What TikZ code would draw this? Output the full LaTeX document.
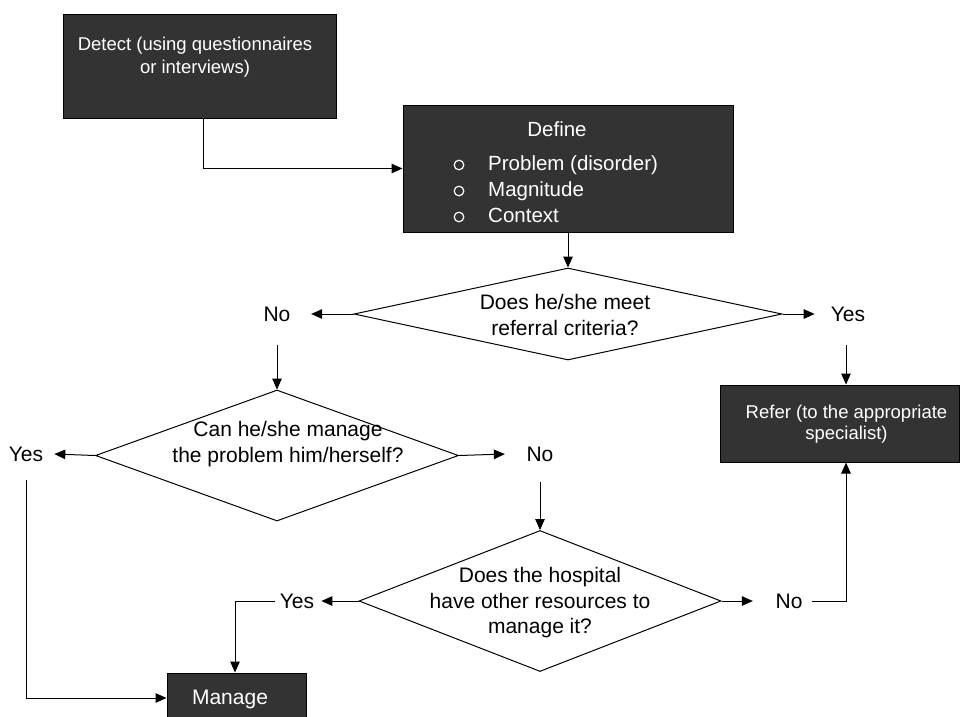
\documentclass[tikz,border=0pt]{standalone}
\usepackage{fontspec}
\setmainfont{Liberation Sans}
\usetikzlibrary{shapes.geometric,arrows.meta}
\definecolor{boxgray}{RGB}{51,51,51}
\begin{document}
\begin{tikzpicture}[x=1pt,y=-1pt,
  darkbox/.style={draw=black, fill=boxgray, line width=1pt, inner sep=0pt},
  boxtext/.style={text=white, align=center, inner sep=0pt},
  decision/.style={draw=black, shape=diamond, line width=1pt, inner sep=0pt, shape aspect=1},
  dtext/.style={align=center, inner sep=0pt, font=\fontsize{21}{25.5}\selectfont},
  lbl/.style={inner sep=0pt, font=\fontsize{21}{25}\selectfont},
  arr/.style={-{Triangle[length=11pt,width=9.5pt]}, line width=1pt},
  conn/.style={line width=1pt}
]
\useasboundingbox (0,0) rectangle (960,716);
\clip (0,0) rectangle (960,716);
\fill[white] (0,0) rectangle (960,716);

% boxes
\node[darkbox, minimum width=273, minimum height=104] (detect) at (199.5,66) {};
\node[boxtext, font=\fontsize{18.5}{23}\selectfont] (detecttxt) at (195,57)
  {Detect (using questionnaires\\or interviews)};

\node[darkbox, minimum width=330, minimum height=127] (define) at (568,168.5) {};
\node[boxtext, anchor=base, font=\fontsize{20.5}{24}\selectfont] (definetxt) at (557,136) {Define};
\foreach \yy/\t/\n in {170/Problem (disorder)/p, 196/Magnitude/m, 222/Context/c}{
  \draw[white, line width=1.2pt] (459,\yy-5) circle (4.8);
  \node[boxtext, anchor=base west, font=\fontsize{20.5}{24}\selectfont] (item\n) at (488,\yy) {\t};
}

\node[darkbox, minimum width=239, minimum height=77] (refer) at (840,423.5) {};
\node[boxtext, font=\fontsize{18.5}{21}\selectfont] (refertxt) at (846.5,424.5)
  {Refer (to the appropriate\\specialist)};

\node[darkbox, minimum width=139, minimum height=50] (manage) at (236.5,698) {};
\node[boxtext, font=\fontsize{21}{25}\selectfont] (managetxt) at (230,699) {Manage};

% decisions
\node[decision, minimum width=428, minimum height=92] (d1) at (568,314) {};
\node[dtext] (d1txt) at (565,315) {Does he/she meet\\referral criteria?};

\node[decision, minimum width=363, minimum height=131] (d2) at (277,455.5) {};
\node[dtext] (d2txt) at (288,444) {Can he/she manage\\the problem him/herself?};

\node[decision, minimum width=362, minimum height=141] (d3) at (540,601) {};
\node[dtext] (d3txt) at (540,603) {Does the hospital\\have other resources to\\manage it?};

% yes / no labels
\node[lbl] (no1) at (277,314) {No};
\node[lbl] (yes1) at (848,314) {Yes};
\node[lbl] (yes2) at (26,454) {Yes};
\node[lbl] (no2) at (540,454) {No};
\node[lbl] (yes3) at (297,601) {Yes};
\node[lbl] (no3) at (789,601) {No};

% connectors
\draw[arr] ([xshift=3.5pt]detect.south) |- (define.west);
\draw[arr] (define.south) -- (d1.north);
\draw[arr] (d1.west) -- ([xshift=20.5pt]no1.east);
\draw[arr] (d1.east) -- ([xshift=-16pt]yes1.west);
\draw[arr] ([yshift=-31pt]no1.center) -- (no1.center |- d2.north);
\draw[arr] ([xshift=-2pt,yshift=-31pt]yes1.center) -- ([xshift=-2pt]yes1.center |- refer.north);
\draw[arr] (d2.west) -- ([xshift=11pt]yes2.east);
\draw[arr] (d2.east) -- ([xshift=-21.5pt]no2.west);
\draw[arr] ([yshift=-26pt]yes2.center) |- (manage.west);
\draw[arr] ([yshift=-28pt]no2.center) -- (no2.center |- d3.north);
\draw[arr] (d3.west) -- ([xshift=7pt]yes3.east);
\draw[arr] ([xshift=-5pt]yes3.west) -| ([xshift=-1.5pt]manage.north);
\draw[arr] (d3.east) -- ([xshift=-22.5pt]no3.west);
\draw[arr] ([xshift=9pt]no3.east) -| ([xshift=6pt]refer.south);
\end{tikzpicture}
\end{document}
